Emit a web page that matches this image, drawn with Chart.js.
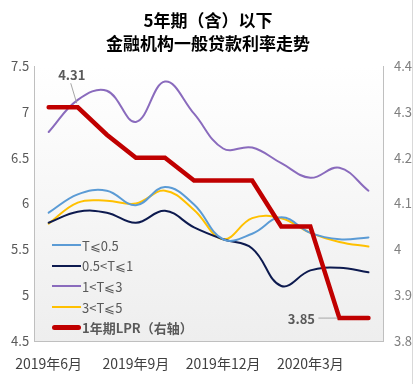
<!DOCTYPE html>
<html lang="zh">
<head>
<meta charset="UTF-8">
<title>金融机构一般贷款利率走势</title>
<script src="https://cdn.jsdelivr.net/npm/chart.js"></script>
<style>
    body { margin: 0; background: #fff; font-family: 'Noto Sans CJK SC', sans-serif; }
    .wrap { position: relative; width: 416px; height: 384px; }
    .edge { position: absolute; left: 412px; top: 0; width: 1px; height: 384px; background: #d9d9d9; }
    .legend { position: absolute; left: 52px; top: 235px; font-size: 13px; color: #595959; }
    .legend div { height: 20.6px; display: flex; align-items: center; }
    .legend span.ln { display: inline-block; width: 29px; height: 2px; margin-right: 1px; }
    .legend .bold { font-weight: bold; }
</style>
</head>
<body>
<div class="wrap">
    <canvas id="c" width="416" height="384"></canvas>
    <div class="edge"></div>
    <div class="legend" id="legend"></div>
</div>
<script>
    const months = ['2019年6月', '2019年7月', '2019年8月', '2019年9月', '2019年10月', '2019年11月',
        '2019年12月', '2020年1月', '2020年2月', '2020年3月', '2020年4月', '2020年5月'];

    const t05 = [5.90, 6.10, 6.14, 5.98, 6.18, 5.99, 5.61, 5.67, 5.85, 5.68, 5.61, 5.63];
    const t1 = [5.79, 5.91, 5.90, 5.79, 5.92, 5.74, 5.61, 5.51, 5.10, 5.27, 5.30, 5.25];
    const t3 = [6.78, 7.13, 7.23, 6.89, 7.33, 6.98, 6.60, 6.61, 6.44, 6.28, 6.39, 6.14];
    const t5 = [5.78, 6.01, 6.03, 6.00, 6.14, 5.93, 5.61, 5.84, 5.84, 5.68, 5.58, 5.53];
    const lpr = [4.31, 4.31, 4.25, 4.20, 4.20, 4.15, 4.15, 4.15, 4.05, 4.05, 3.85, 3.85];

    const names = ['T⩽0.5', ' 0.5<T⩽1', '1<T⩽3', '3<T⩽5', '1年期LPR（右轴）'];
    const colors = ['#5b9bd5', '#0d1a4f', '#8a6bbd', '#ffc000', '#c00000'];

    // легенда поверх графика
    const legend = document.getElementById('legend');
    names.forEach(function (n, i) {
        const row = document.createElement('div');
        const ln = document.createElement('span');
        ln.className = 'ln';
        ln.style.background = colors[i];
        if (i === 4) { ln.style.height = '5px'; ln.style.borderRadius = '3px'; }
        const tx = document.createElement('span');
        tx.textContent = n;
        if (i === 4) tx.className = 'bold';
        row.appendChild(ln);
        row.appendChild(tx);
        legend.appendChild(row);
    });

    const bgPlugin = {
        id: 'bg',
        beforeDraw(chart) {
            const a = chart.chartArea, ctx = chart.ctx;
            const g = ctx.createLinearGradient(0, a.top, 0, a.bottom);
            g.addColorStop(0, '#ffffff');
            g.addColorStop(1, '#eeeeee');
            ctx.save();
            ctx.fillStyle = g;
            ctx.fillRect(a.left, a.top, a.right - a.left, a.bottom - a.top);
            ctx.restore();
        }
    };

    const labelPlugin = {
        id: 'lbl',
        afterDatasetsDraw(chart) {
            const ctx = chart.ctx, x = chart.scales.x, y1 = chart.scales.y1;
            ctx.save();
            ctx.font = 'bold 13px "Noto Sans CJK SC"';
            ctx.fillStyle = '#595959';
            ctx.strokeStyle = '#a6a6a6';
            ctx.lineWidth = 1;
            ctx.textBaseline = 'middle';
            ctx.textAlign = 'center';
            // 4.31
            let px = x.getPixelForValue(1), py = y1.getPixelForValue(lpr[1]);
            ctx.fillText(lpr[1].toFixed(2), px - 6, py - 32);
            ctx.beginPath();
            ctx.moveTo(px - 7, py - 24);
            ctx.lineTo(px - 1, py - 4);
            ctx.stroke();
            // 3.85
            px = x.getPixelForValue(10); py = y1.getPixelForValue(lpr[10]);
            ctx.fillText(lpr[10].toFixed(2), px - 38, py + 1);
            ctx.beginPath();
            ctx.moveTo(px - 21, py);
            ctx.lineTo(px - 2, py);
            ctx.stroke();
            ctx.restore();
        }
    };

    function ds(data, color, axis, width, tension, order) {
        return {
            data: data, borderColor: color, backgroundColor: color, yAxisID: axis,
            borderWidth: width, tension: tension, pointRadius: 0, fill: false, order: order,
            borderCapStyle: 'round', borderJoinStyle: 'miter'
        };
    }

    new Chart(document.getElementById('c'), {
        type: 'line',
        data: {
            labels: months,
            datasets: [
                ds(lpr, colors[4], 'y1', 4.5, 0, 0),
                ds(t05, colors[0], 'y', 2, 0.4, 1),
                ds(t1, colors[1], 'y', 2, 0.4, 2),
                ds(t3, colors[2], 'y', 2, 0.4, 3),
                ds(t5, colors[3], 'y', 2, 0.4, 4)
            ]
        },
        options: {
            responsive: false,
            animation: false,
            layout: { padding: 0 },
            plugins: {
                legend: { display: false },
                tooltip: { enabled: false },
                title: {
                    display: true,
                    text: ['5年期（含）以下', '金融机构一般贷款利率走势'],
                    color: '#000',
                    font: { family: '"Noto Sans CJK SC"', size: 17, weight: 'bold', lineHeight: '23px' },
                    padding: { top: 9, bottom: 11 }
                }
            },
            scales: {
                x: {
                    offset: true,
                    grid: { display: false, drawTicks: false, offset: false },
                    border: { display: true, color: '#bfbfbf' },
                    ticks: {
                        autoSkip: false, maxRotation: 0, padding: 14, color: '#404040',
                        font: { family: '"Noto Sans CJK SC"', size: 14 },
                        callback: function (v, i) { return i % 3 === 0 ? months[i] : ''; }
                    },
                    afterFit: function (s) { s.height = 43; }
                },
                y: {
                    position: 'left', min: 4.5, max: 7.5,
                    grid: { display: false, drawTicks: false },
                    border: { display: true, color: '#bfbfbf' },
                    ticks: {
                        stepSize: 0.5, padding: 5, color: '#595959',
                        font: { family: '"Noto Sans CJK SC"', size: 13 },
                        callback: function (v) { return String(Math.round(v * 10) / 10); }
                    },
                    afterFit: function (s) { s.width = 30; }
                },
                y1: {
                    position: 'right', min: 3.8, max: 4.4,
                    grid: { display: false, drawTicks: false },
                    border: { display: true, color: '#bfbfbf' },
                    ticks: {
                        stepSize: 0.1, padding: 11, color: '#7f7f7f',
                        font: { family: '"Noto Sans CJK SC"', size: 13 },
                        callback: function (v) { return String(Math.round(v * 10) / 10); }
                    },
                    afterFit: function (s) { s.width = 33; }
                }
            }
        },
        plugins: [bgPlugin, labelPlugin]
    });
</script>
</body>
</html>
